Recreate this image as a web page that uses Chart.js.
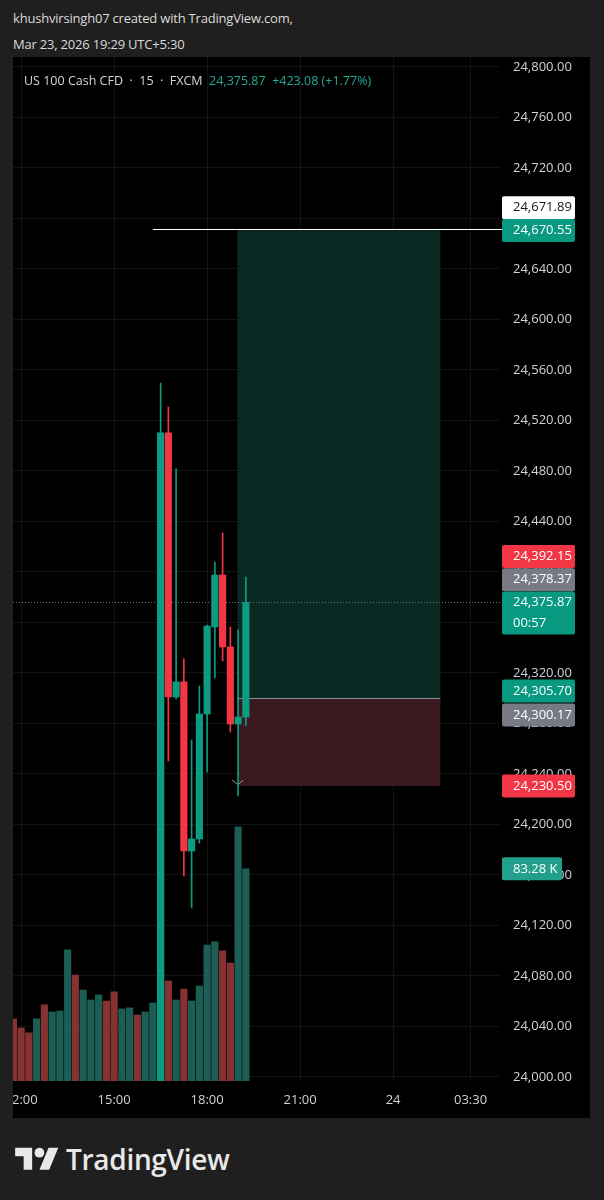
<!DOCTYPE html>
<html>
<head>
<meta charset="utf-8">
<script src="https://cdn.jsdelivr.net/npm/chart.js@4.4.1/dist/chart.umd.min.js"></script>
<style>
  html, body { margin: 0; padding: 0; background: #1f1f1f; }
  body { width: 604px; height: 1200px; position: relative; overflow: hidden; font-family: 'Open Sans', 'Noto Sans', sans-serif; }
  .hdr { position: absolute; left: 13px; color: #dadada; font-size: 13px; line-height: 16px; white-space: nowrap; letter-spacing: -0.2px; }
  #panel { position: absolute; left: 13px; top: 57px; width: 577px; height: 1061px; background: #000; }
  #legend { position: absolute; left: 11px; top: 15px; font-size: 12.5px; color: #d1d4dc; white-space: nowrap; }
  #legend .g { color: #22ab94; }
  #logo { position: absolute; left: 15px; top: 1143px; }
  #brand { position: absolute; left: 66px; top: 1140px; font-size: 28px; font-weight: 600; color: #e8e8e8; letter-spacing: -0.3px; }
</style>
</head>
<body>
<div class="hdr" style="top:10px">khushvirsingh07 created with TradingView.com,</div>
<div class="hdr" style="top:36px">Mar 23, 2026 19:29 UTC+5:30</div>
<div id="panel">
  <canvas id="c" width="577" height="1061"></canvas>
  <div id="legend">US 100 Cash CFD &nbsp;·&nbsp; 15 &nbsp;·&nbsp; FXCM &nbsp;<span class="g">24,375.87 &nbsp;+423.08 (+1.77%)</span></div>
</div>
<svg id="logo" width="44" height="34" viewBox="0 0 36 28"><g fill="#e8e8e8"><path d="M14 22H7V11H0V4h14v18zM28 22h-8l7.5-18h8L28 22z"/><circle cx="20" cy="8" r="4"/></g></svg>
<div id="brand">TradingView</div>

<script>
// 15 min bars, index 0 = 11:45 ... index 30 = 19:15 (only 19..30 are above 24,000)
var opens  = [null,null,null,null,null,null,null,null,null,null,null,null,null,null,null,null,null,null,null,
              23962, 24510.3, 24301.0, 24312.9, 24179.0, 24188.5, 24287.5, 24356.4, 24397.6, 24340.6, 24279.6, 24285.1];
var highs  = [null,null,null,null,null,null,null,null,null,null,null,null,null,null,null,null,null,null,null,
              24549.7, 24530.7, 24481.6, 24331.1, 24266.9, 24309.7, 24358.0, 24407.9, 24430.9, 24356.4, 24354.1, 24396.0];
var lows   = [null,null,null,null,null,null,null,null,null,null,null,null,null,null,null,null,null,null,null,
              23955, 24250.3, 24299.4, 24159.2, 24133.9, 24185.3, 24241.6, 24316.0, 24329.5, 24273.3, 24222.6, 24278.4];
var closes = [null,null,null,null,null,null,null,null,null,null,null,null,null,null,null,null,null,null,null,
              24510.3, 24301.0, 24312.9, 24179.0, 24188.5, 24287.5, 24357.2, 24397.6, 24340.6, 24279.6, 24285.1, 24375.87];
// volume in thousands, up = true for green bars
var volumes = [24.4, 20.8, 18.9, 24.4, 29.9, 27.1, 27.5, 51.5, 41.6, 35.7, 31.8, 33.8, 31.4, 35.0, 28.3, 28.7,
               25.9, 27.1, 30.6, 160, 39.3, 31.8, 36.1, 31.4, 37.3, 53.4, 54.6, 51.1, 46.3, 99.8, 83.28];
var volUp = [0,0,0,1,0,1,1,1,0,1,1,1,0,0,1,1,0,1,1,1,0,1,0,1,1,1,1,0,0,1,1];

var timeTickIdx = [1, 13, 25, 37, 49, 59];
var timeTickLabels = ['12:00', '15:00', '18:00', '21:00', '24', '03:30'];
var priceTicks = [24000, 24040, 24080, 24120, 24160, 24200, 24240, 24280, 24320, 24360, 24400,
                  24440, 24480, 24520, 24560, 24600, 24640, 24680, 24720, 24760, 24800];

var lastPrice = 24375.87;
var hLinePrice = 24671.89, hLineFrom = 18;
var posEntry = 24300.17, posTarget = 24670.55, posStop = 24230.50, posFrom = 28.9, posTo = 55.1;

// right axis price labels: value, text, bg, fg, nudge (px, label stacking)
var axisLabels = [
  [24671.89, '24,671.89', '#ffffff', '#131722', -21],
  [24670.55, '24,670.55', '#089981', '#ffffff', 0],
  [24392.15, '24,392.15', '#f23645', '#ffffff', -25.5],
  [24378.37, '24,378.37', '#787b86', '#ffffff', -19.5],
  [24305.70, '24,305.70', '#089981', '#ffffff', 0],
  [24300.17, '24,300.17', '#787b86', '#ffffff', 17],
  [24230.50, '24,230.50', '#f23645', '#ffffff', 0]
];

var GREEN = '#0b9c83', RED = '#f23645';
var gridColor = 'rgba(255,255,255,0.07)';
var tickColor = '#cfd2d8';

var wicks = [], bodies = [], wickCol = [], bodyCol = [];
for (var i = 0; i < opens.length; i++) {
  if (opens[i] === null) continue;
  var c = closes[i] >= opens[i] ? GREEN : RED;
  wicks.push({x: i, y: [lows[i], highs[i]]});
  bodies.push({x: i, y: [opens[i], closes[i]]});
  wickCol.push(c); bodyCol.push(c);
}
var vols = volumes.map(function(v, i) { return {x: i, y: v}; });
var volCol = volUp.map(function(u) { return u ? '#1d5e54' : '#873232'; });

function noPad(s) { s.paddingLeft = 0; s.paddingRight = 0; s.paddingTop = 0; s.paddingBottom = 0; }

var overlay = {
  id: 'overlay',
  beforeDatasetsDraw: function(chart) {
    var ctx = chart.ctx, a = chart.chartArea, x = chart.scales.x, y = chart.scales.y;
    ctx.save();
    ctx.beginPath(); ctx.rect(a.left, a.top, a.right - a.left, a.bottom - a.top); ctx.clip();
    var x0 = x.getPixelForValue(posFrom), x1 = x.getPixelForValue(posTo);
    var yT = y.getPixelForValue(posTarget), yE = y.getPixelForValue(posEntry), yS = y.getPixelForValue(posStop);
    ctx.fillStyle = '#0a2922';
    ctx.fillRect(x0, yT, x1 - x0, yE - yT);
    ctx.fillStyle = '#3a1a1e';
    ctx.fillRect(x0, yE, x1 - x0, yS - yE);
    ctx.strokeStyle = '#8a8d96'; ctx.lineWidth = 1;
    ctx.beginPath(); ctx.moveTo(x0, Math.round(yE) + 0.5); ctx.lineTo(x1, Math.round(yE) + 0.5); ctx.stroke();
    // last price dotted line
    var yL = Math.round(y.getPixelForValue(lastPrice)) + 0.5;
    ctx.strokeStyle = '#4f857a'; ctx.setLineDash([1, 2]);
    ctx.beginPath(); ctx.moveTo(a.left, yL); ctx.lineTo(a.right, yL); ctx.stroke();
    ctx.setLineDash([]);
    ctx.restore();
  },
  afterDatasetsDraw: function(chart) {
    var ctx = chart.ctx, a = chart.chartArea, x = chart.scales.x, y = chart.scales.y;
    ctx.save();
    var yH = Math.round(y.getPixelForValue(hLinePrice)) + 0.5;
    ctx.strokeStyle = '#ffffff'; ctx.lineWidth = 1;
    ctx.beginPath(); ctx.moveTo(x.getPixelForValue(hLineFrom), yH); ctx.lineTo(a.right + 2, yH); ctx.stroke();
    // small marker near the stop
    var mx = x.getPixelForValue(29), my = y.getPixelForValue(posStop) - 2;
    ctx.strokeStyle = '#9a9a9a';
    ctx.beginPath(); ctx.moveTo(mx - 6, my - 4); ctx.lineTo(mx - 1, my); ctx.moveTo(mx + 5, my - 4); ctx.lineTo(mx + 1, my); ctx.stroke();
    ctx.restore();
  },
  afterDraw: function(chart) {
    var ctx = chart.ctx, a = chart.chartArea, y = chart.scales.y, v = chart.scales.vol;
    var bx = a.right + 2, bw = 73, bh = 23;
    ctx.save();
    ctx.font = '13px "Open Sans", "Noto Sans", sans-serif';
    ctx.textBaseline = 'middle';
    function box(cy, h, bg, w) {
      ctx.fillStyle = bg;
      ctx.beginPath(); ctx.roundRect(bx, cy, w || bw, h, 2); ctx.fill();
    }
    axisLabels.forEach(function(l) {
      var cy = y.getPixelForValue(l[0]) + l[4];
      box(cy - bh / 2, bh, l[2]);
      ctx.fillStyle = l[3];
      ctx.fillText(l[1], a.right + 13, cy);
    });
    // current price with countdown
    var cy = y.getPixelForValue(lastPrice);
    box(cy - 11, 43, '#089981');
    ctx.fillStyle = '#ffffff';
    ctx.fillText('24,375.87', a.right + 13, cy);
    ctx.fillText('00:57', a.right + 13, cy + 21);
    // volume label
    var vy = v.getPixelForValue(volumes[volumes.length - 1]);
    box(vy - bh / 2, bh, '#23a08c', 60);
    ctx.fillStyle = '#ffffff';
    ctx.fillText(volumes[volumes.length - 1].toFixed(2) + ' K', a.right + 13, vy);
    ctx.restore();
  }
};

new Chart(document.getElementById('c'), {
  type: 'bar',
  data: {
    datasets: [
      { label: 'body', data: bodies, backgroundColor: bodyCol, barThickness: 6.5, grouped: false, order: 1, yAxisID: 'y' },
      { label: 'wick', data: wicks, backgroundColor: wickCol, barThickness: 1, grouped: false, order: 2, yAxisID: 'y' },
      { label: 'volume', data: vols, backgroundColor: volCol, barThickness: 6.5, grouped: false, order: 3, yAxisID: 'vol' }
    ]
  },
  options: {
    responsive: false,
    animation: false,
    devicePixelRatio: 1,
    layout: { padding: 0 },
    plugins: { legend: { display: false }, tooltip: { enabled: false } },
    scales: {
      x: {
        type: 'linear', min: -0.05, max: 62.8, offset: false,
        afterBuildTicks: function(s) { s.ticks = timeTickIdx.map(function(v) { return {value: v}; }); },
        afterFit: function(s) { s.height = 37; noPad(s); },
        ticks: {
          color: tickColor, font: { size: 13, family: '"Open Sans", "Noto Sans", sans-serif' },
          padding: 11, maxRotation: 0, autoSkip: false,
          callback: function(v) { return timeTickLabels[timeTickIdx.indexOf(v)]; }
        },
        grid: { color: gridColor, drawTicks: false, offset: false },
        border: { display: false }
      },
      y: {
        position: 'right', min: 23996.8, max: 24807.9,
        afterBuildTicks: function(s) { s.ticks = priceTicks.map(function(v) { return {value: v}; }); },
        afterFit: function(s) { s.width = 90; noPad(s); },
        ticks: {
          color: tickColor, font: { size: 13, family: '"Open Sans", "Noto Sans", sans-serif' }, padding: 13,
          callback: function(v) { return v.toLocaleString('en-US', { minimumFractionDigits: 2, maximumFractionDigits: 2 }); }
        },
        grid: { color: gridColor, drawTicks: false },
        border: { display: false }
      },
      vol: { display: false, min: 0, max: 402, afterFit: noPad }
    }
  },
  plugins: [overlay]
});
</script>
</body>
</html>
